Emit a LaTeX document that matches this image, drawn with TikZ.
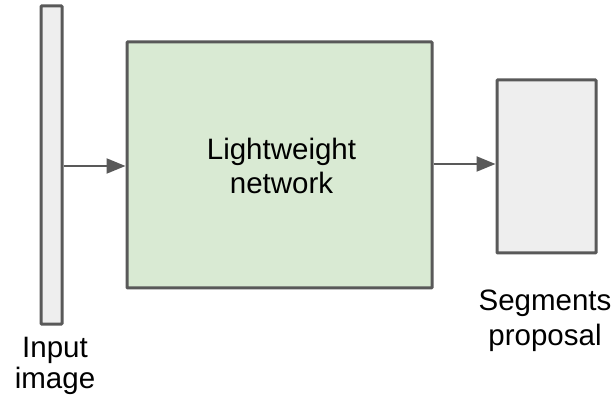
\documentclass[tikz,border=0pt]{standalone}
\usepackage{fontspec}
\setmainfont{Liberation Sans}
\usetikzlibrary{arrows.meta,positioning}
\definecolor{boxline}{HTML}{595959}
\definecolor{boxgray}{HTML}{EEEEEE}
\definecolor{boxgreen}{HTML}{D9EAD3}
\tikzset{
	block/.style={draw=boxline, line width=3pt, inner sep=0pt, rounded corners=0.8pt},
	label/.style={align=center, inner sep=0pt, font=\fontsize{29.5}{34}\selectfont},
	flow/.style={draw=boxline, line width=2.2pt, -{Triangle[length=19pt,width=15pt]}}
}

\begin{document}
\begin{tikzpicture}[x=1pt, y=-1pt]
		%%%%% START %%%%%
		\useasboundingbox (0, 0) rectangle (614, 401);
		
		\node[block, fill=boxgray, minimum width=21pt, minimum height=318pt] (input) at (51.5, 165) {};
		\node[block, fill=boxgreen, minimum width=305pt, minimum height=246pt] (net) at (279.5, 165) {};
		\node[block, fill=boxgray, minimum width=99pt, minimum height=173pt] (seg) at (546.5, 166.5) {};
		
		\node[label] (nettext) at (281.5, 166) {Lightweight\\network};
		\node[label, font=\fontsize{29.5}{31}\selectfont] (inputtext) at (55, 366) {Input\\image};
		\node[label, font=\fontsize{29.5}{35}\selectfont] (segtext) at (545, 321) {Segments\\proposal};
		
		\draw[flow] (input.east |- 0, 166) -- (net.west |- 0, 166);
		\draw[flow] (net.east |- 0, 164) -- (seg.west |- 0, 164);
		%%%%% END %%%%%
	\end{tikzpicture}
\end{document}
